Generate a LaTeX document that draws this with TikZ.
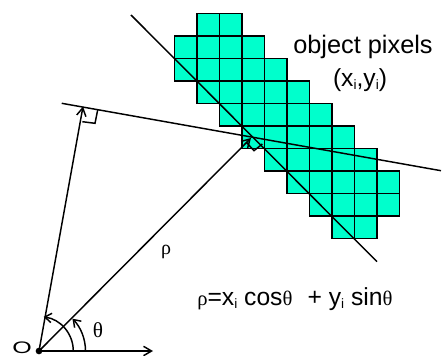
\documentclass[tikz,border=0pt]{standalone}
\usepackage{fontspec}
\setmainfont{Liberation Sans}
\newfontfamily\symfont{Liberation Serif}
\usetikzlibrary{arrows.meta}
\newcommand{\subi}{\raisebox{-0.12em}{\scalebox{0.55}{i}}}
\newcommand{\eqsym}[1]{{\symfont\fontsize{15.5}{16}\selectfont #1}}
\definecolor{pixelfill}{RGB}{0,255,204}
\tikzset{
  x=0.75pt,y=-0.75pt,
  pixel/.style={draw=black,line width=1.1pt,fill=pixelfill},
  ray/.style={draw=black,line width=1.1pt,-{Straight Barb[length=6pt,width=7pt,line width=1.1pt]}},
  arcarrow/.style={draw=black,line width=1.1pt,-{Straight Barb[length=5pt,width=7pt,line width=1.1pt]}},
  line/.style={draw=black,line width=1.1pt},
  label/.style={inner sep=0pt,text=black},
}
\newcommand{\pixrow}[3]{%
  \foreach \k in {#2,...,#3}{
    \path[pixel] ({174.7+22.48*\k},{13.3+22.54*#1}) rectangle ++(22.48,22.54);
  }}
\begin{document}
\begin{tikzpicture}
\useasboundingbox (0,0) rectangle (442,356);
\pixrow{0}{1}{2}
\pixrow{1}{0}{3}
\pixrow{2}{0}{4}
\pixrow{3}{1}{5}
\pixrow{4}{2}{6}
\pixrow{5}{3}{7}
\pixrow{6}{4}{8}
\pixrow{7}{5}{9}
\pixrow{8}{6}{9}
\pixrow{9}{7}{8}
\coordinate (d1) at (131,15);
\coordinate (d2) at (377,261.7);
\coordinate (l1) at (61.7,103.3);
\coordinate (l2) at (441,170.7);
\coordinate (foot) at (83,106.5);
\coordinate (px) at (251,138);
\coordinate (xend) at (153,351);
\node[circle,fill=black,inner sep=0pt,minimum size=5pt] (o) at (39,351) {};
\path[line] (d1) -- (d2);
\path[line] (l1) -- (l2);
\path[ray] (o.center) -- (foot);
\path[ray] (o.center) -- (px);
\path[ray] (o.center) -- (xend);
\path[line] (82.3,121.7) -- (95,123.3) -- (97.7,110);
\path[line] (246.7,142.7) -- (254,150.7) -- (262.3,144);
\path[arcarrow] (73.3,351) arc[start angle=0,end angle=-82,radius=34.5];
\path[arcarrow] (85.5,351) arc[start angle=0,end angle=-44,radius=46.5];
\node[label,font=\fontsize{19}{22}\selectfont] (t1) at (363,47) {object pixels};
\node[label,font=\fontsize{18.5}{22}\selectfont] (t2) at (360,80) {(x\subi,y\subi)};
\node[label,xscale=1.5,font=\fontsize{12.5}{15}\selectfont] (o0) at (22,348) {O};
\node[label,font=\symfont\fontsize{15}{18}\selectfont] (rho) at (166,252) {ρ};
\node[label,font=\symfont\fontsize{16}{18}\selectfont] (th) at (98,330) {θ};
\node[label,anchor=west,font=\fontsize{18.5}{22}\selectfont] (eq) at (197,299) {\eqsym{ρ}=x\subi{} cos\eqsym{θ}\,\, + y\subi{} sin\eqsym{θ}};
\end{tikzpicture}
\end{document}
